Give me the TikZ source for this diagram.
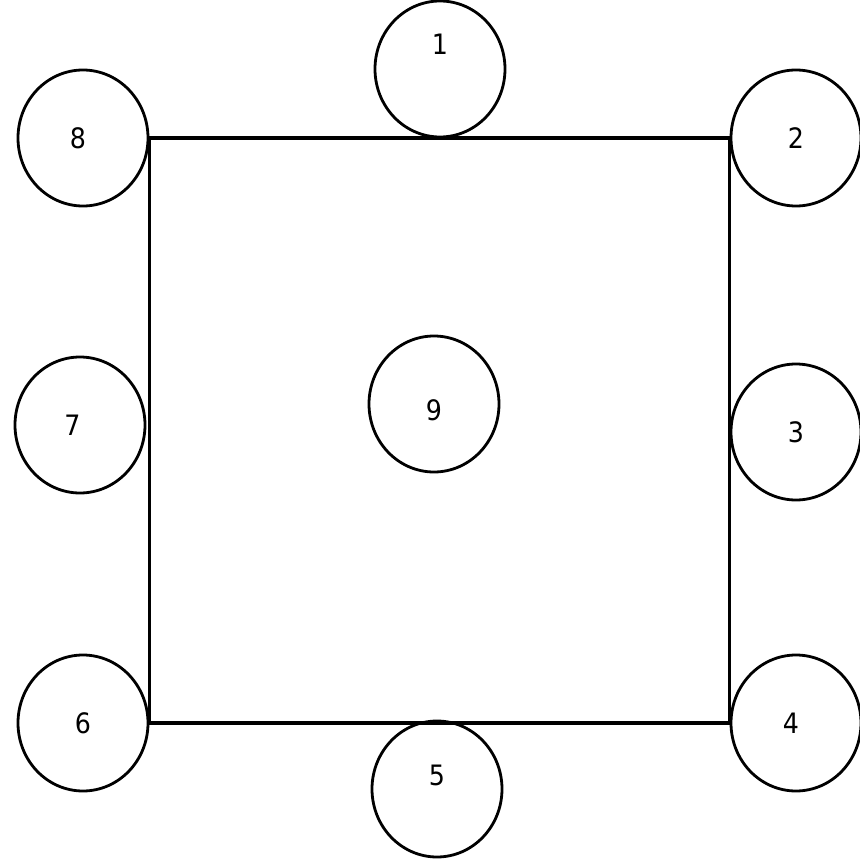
\documentclass[tikz,border=0pt]{standalone}
\usepackage{fontspec}
\setmainfont{DejaVu Sans Condensed}
\usetikzlibrary{shapes.geometric}
\begin{document}
\begin{tikzpicture}[
    station/.style={draw, ellipse, line width=1.6pt, minimum width=2.6cm, minimum height=2.72cm, inner sep=0pt},
    num/.style={font=\fontsize{16}{18}\selectfont},
  ]
    \useasboundingbox (0,0) rectangle (17.2,17.16);

    % stations round the hall
    \node[station, label={[num, yshift=0.5cm]center:1}] (s1) at (8.80,15.78) {};
    \node[station, label={[num]center:2}] (s2) at (15.92,14.40) {};
    \node[station, label={[num]center:3}] (s3) at (15.92,8.52) {};
    \node[station, label={[num, xshift=-0.1cm]center:4}] (s4) at (15.92,2.70) {};
    \node[station, label={[num, yshift=0.28cm]center:5}] (s5) at (8.74,1.38) {};
    \node[station, label={[num]center:6}] (s6) at (1.66,2.70) {};
    \node[station, label={[num, xshift=-0.15cm]center:7}] (s7) at (1.60,8.66) {};
    \node[station, label={[num, xshift=-0.1cm]center:8}] (s8) at (1.66,14.40) {};

    % the one in the middle
    \node[station, label={[num, yshift=-0.12cm]center:9}] (s9) at (8.68,9.08) {};

    % the hall
    \draw[line width=2pt] (s8.east) -- (s2.west);
    \draw[line width=2pt] (s6.east) -- (s4.west);
    \draw[line width=1.4pt] (s8.east) -- (s6.east);
    \draw[line width=1.4pt] (s2.west) -- (s4.west);
\end{tikzpicture}
\end{document}
